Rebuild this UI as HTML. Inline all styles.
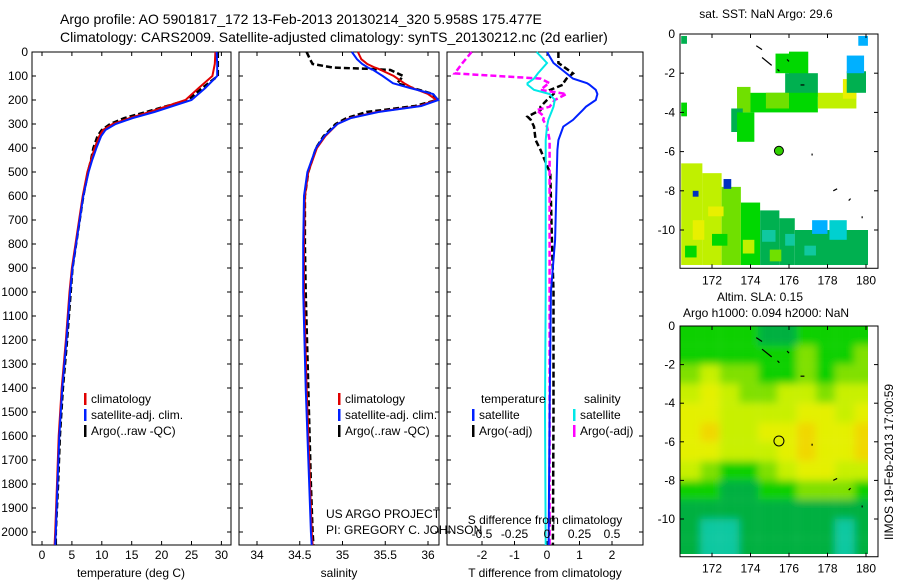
<!DOCTYPE html>
<html><head><meta charset="utf-8"><style>
html,body{margin:0;padding:0;background:#fff;}
svg{display:block;font-family:"Liberation Sans",sans-serif;}
</style></head><body>
<svg id="fig" width="900" height="580" viewBox="0 0 900 580" xmlns="http://www.w3.org/2000/svg">
<defs>
<filter id="blur" x="0" y="0" width="1" height="1"><feGaussianBlur stdDeviation="4"/></filter>
<clipPath id="clipSla"><rect x="680" y="326" width="188" height="228"/></clipPath>
<clipPath id="clipSst"><rect x="680" y="34" width="188" height="231"/></clipPath>
</defs>
<text x="60" y="24" font-size="14">Argo profile: AO 5901817_172 13-Feb-2013 20130214_320 5.958S 175.477E</text>
<text x="60" y="42" font-size="14">Climatology: CARS2009. Satellite-adjusted climatology: synTS_20130212.nc (2d earlier)</text>
<g id="plots"></g>
</svg>
<script>
// ---------- profile data ----------
const presT = [0,50,100,150,200,250,275,300,325,350,400,450,500,600,700,800,900,1000,1100,1200,1400,1600,1800,2000,2054];
const tempClim = [29.0,28.9,28.5,26.2,24.0,18.0,14.7,11.8,10.2,9.6,8.8,8.2,7.6,6.8,6.2,5.6,5.0,4.6,4.3,4.0,3.3,2.8,2.5,2.2,2.1];
const tempSat  = [29.2,29.3,29.3,27.3,25.0,18.8,15.2,12.3,10.6,9.9,9.1,8.4,7.8,6.9,6.3,5.7,5.1,4.7,4.4,4.1,3.4,2.9,2.6,2.3,2.2];
const tempArgo = [29.4,29.4,29.4,26.8,24.4,17.4,13.8,11.4,10.0,9.3,8.6,8.2,7.7,6.9,6.3,5.7,5.1,4.8,4.5,4.2,3.5,3.0,2.7,2.3,2.3];

const presS = [0,30,50,65,70,75,100,130,150,175,200,225,250,275,300,350,400,500,600,800,1000,1400,1800,2000,2054];
const salClim = [35.18,35.22,35.29,35.38,35.42,35.45,35.60,35.72,35.82,36.00,36.10,35.90,35.40,35.09,34.94,34.80,34.70,34.60,34.56,34.55,34.55,34.58,34.62,34.64,34.65];
const salSat  = [35.11,35.17,35.23,35.30,35.33,35.36,35.47,35.59,35.79,36.06,36.12,35.92,35.42,35.10,34.94,34.79,34.69,34.59,34.55,34.54,34.54,34.57,34.61,34.63,34.64];
const salArgo = [34.58,34.62,34.65,34.89,35.29,35.56,35.71,35.64,35.82,36.06,36.10,35.85,35.28,35.05,34.92,34.78,34.69,34.60,34.56,34.56,34.57,34.60,34.63,34.65,34.66];

const presD = [0,46,89,111,130,136,158,175,200,228,242,269,283,311,367,408,506,783,1000,1500,2054];
const tDiffSat  = [0.0,0.2,0.6,0.8,1.23,1.3,1.5,1.55,1.5,1.2,1.1,0.9,0.8,0.5,0.35,0.32,0.3,0.25,0.12,0.08,0.05];
const tDiffArgo = [0.35,0.35,0.8,0.6,0.5,0.5,0.1,0.2,0.0,-0.2,-0.2,-0.6,-0.5,-0.4,-0.35,-0.2,0.1,0.15,0.2,0.2,0.18];
const sDiffSat  = [-0.08,0.0,-0.07,-0.1,-0.15,-0.15,-0.1,0.02,0.06,0.05,0.04,0.02,0.01,0.0,-0.01,-0.01,-0.01,-0.01,-0.01,-0.015,-0.01];
const sDiffArgo = [-0.58,-0.65,-0.71,-0.05,0.02,0.0,-0.05,0.15,0.06,0.02,-0.08,-0.02,-0.03,0.0,0.02,0.02,0.02,0.02,0.02,0.02,0.02];

const pTicks = [0,100,200,300,400,500,600,700,800,900,1000,1100,1200,1300,1400,1500,1600,1700,1800,1900,2000];
const tTicks = [0,5,10,15,20,25,30];
const sTicks = [34,34.5,35,35.5,36];
const tdTicks = [-2,-1,0,1,2];
const sdTicks = [-0.5,-0.25,0,0.25,0.5];
const sdTickLabels = ['-0.5','-0.25','0','0.25','0.5'];

// ---------- map data ----------
const slaLonEdges = [170.4,171.4,172.4,173.4,174.4,175.4,176.4,177.4,178.4,179.4,180.4];
const slaRows = [
 [2,2,2,2,1,1,2,2,2,2],
 [2,2,2,2,2,2,3,2,2,3],
 [3,4,3,3,2,2,3,2,3,3],
 [4,5,4,3,3,4,4,3,4,4],
 [5,5,4,4,4,4,5,5,4,5],
 [5,6,4,4,5,5,6,5,5,6],
 [5,5,4,4,4,5,6,5,5,6],
 [4,3,2,2,3,4,5,5,4,4],
 [2,2,1,1,2,2,3,3,3,2],
 [1,1,1,1,1,1,1,1,1,1],
 [1,0,0,1,1,1,1,1,0,1],
 [1,0,0,1,1,1,1,1,0,1]];
const slaColors = ['#10c8a0','#00b040','#10d000','#80e000','#c8f000','#e4f000','#f0d800'];
// SST patches: [lonW, lonE, latN, latS, colorIndex]
const sstPatches = [
 [170.4,171.5,-6.6,-11.8,4],[171.5,172.5,-7.1,-11.8,4],[172.5,173.5,-7.8,-11.8,3],
 [173.5,174.5,-8.6,-11.8,2],[174.5,175.5,-9.0,-11.8,1],[175.5,176.3,-9.4,-11.8,1],
 [176.3,180.3,-10.0,-11.8,1],[177.2,178.0,-9.5,-10.2,7],[178.1,179.0,-9.5,-10.5,8],
 [179.5,180.3,-10.9,-11.8,1],[172.6,173.0,-7.4,-7.9,9],[171.0,171.3,-8.0,-8.3,9],
 [171.0,171.6,-9.5,-10.5,5],[170.6,171.2,-10.8,-11.4,2],[172.0,172.8,-10.2,-10.8,2],
 [171.8,172.6,-8.8,-9.3,5],[173.6,174.2,-10.5,-11.2,4],[174.6,175.3,-10.0,-10.6,0],
 [175.8,176.3,-10.2,-10.8,0],[176.8,177.4,-10.8,-11.3,0],[175.0,175.6,-11.0,-11.6,3],
 [176.0,177.0,-0.9,-3.0,2],[175.3,176.0,-1.0,-2.0,2],[175.8,177.5,-2.0,-3.2,1],
 [173.3,174.0,-2.7,-4.0,3],[174.0,177.5,-3.0,-4.0,2],[174.8,176.0,-3.0,-3.8,3],
 [177.5,179.5,-3.0,-3.8,4],[178.8,179.5,-2.3,-3.3,5],[179.0,180.0,-1.9,-3.0,1],
 [173.0,173.6,-3.8,-5.0,1],[173.3,174.2,-4.0,-5.5,2],[170.4,170.7,-3.5,-4.2,2],
 [179.6,180.1,-0.1,-0.6,7],[179.0,179.9,-1.1,-2.0,7],[170.4,170.7,-0.1,-0.5,1]];
const sstColors = ['#10c8a0','#00b050','#00d800','#70e000','#c0f000','#e8f000','#f0d000','#00b0ff','#00d0d0','#0030c0'];
const argoLon = 175.477, argoLat = -5.958;

// ---------- drawing ----------
const NS='http://www.w3.org/2000/svg';
const root=document.getElementById('plots');
function mk(tag,attrs,parent){const e=document.createElementNS(NS,tag);for(const k in attrs)e.setAttribute(k,attrs[k]);(parent||root).appendChild(e);return e;}
function txt(x,y,s,size,anchor,parent){const t=mk('text',{x:x,y:y,'font-size':size||12,'text-anchor':anchor||'start'},parent);t.textContent=s;return t;}

const py = p => 52 + p*0.24;
const PT={x0:32,x1:231}, PS={x0:239,x1:439}, PD={x0:447,x1:643};
const tx = t => 42 + t*5.98;
const sx = s => 257 + (s-34)*85.5;
const tdx = d => 547 + d*32.5;
const sdx = d => 547 + d*130;

function panel(P,name){
  const g=mk('g',{});
  
  
  mk('rect',{x:P.x0,y:52,width:P.x1-P.x0,height:493,fill:'#fff',stroke:'#000','stroke-width':1},g);
  pTicks.forEach(p=>{const y=py(p);
    mk('line',{x1:P.x0,x2:P.x0+4,y1:y,y2:y,stroke:'#000'},g);
    mk('line',{x1:P.x1-4,x2:P.x1,y1:y,y2:y,stroke:'#000'},g);});
  return g;
}
function xticks(g,ticks,f,labels,ly){
  ticks.forEach((v,i)=>{const x=f(v);
    mk('line',{x1:x,x2:x,y1:52,y2:56,stroke:'#000'},g);
    mk('line',{x1:x,x2:x,y1:541,y2:545,stroke:'#000'},g);
    const t=txt(x,ly,labels?labels[i]:String(v),12,'middle',g);
    
    });
}
function line(g,xs,ps,fx,color,w,dash,name){
  const d=xs.map((v,i)=>(i?'L':'M')+fx(v).toFixed(1)+','+py(ps[i]).toFixed(1)).join('');
  const a={d:d,fill:'none',stroke:color,'stroke-width':w};
  if(dash)a['stroke-dasharray']=dash;
  const e=mk('path',a,g);
  
  
}
function legend(g,x,y,items){
  items.forEach((it,i)=>{const yy=y+i*16;
    mk('rect',{x:x,y:yy-10,width:2.5,height:12,fill:it[1]},g);
    const t=txt(x+7,yy,it[0],12,'start',g);
    
    });
}

// y axis labels
const yl=mk('g',{});


pTicks.forEach(p=>txt(28,py(p)+4,String(p),12,'end',yl));

// Panel 1: temperature
const g1=panel(PT,'temperature-panel');
xticks(g1,tTicks,tx,null,559);
let t1=txt(131,577,'temperature (deg C)',12,'middle',g1);


line(g1,tempArgo,presT,tx,'#000',2.5,'6,3','argo-temperature-line');
line(g1,tempClim,presT,tx,'#e00000',2,null,'climatology-temperature-line');
line(g1,tempSat,presT,tx,'#0020ff',2,null,'satellite-temperature-line');
legend(g1,84,403,[['climatology','#e00000'],['satellite-adj. clim.','#0020ff'],['Argo(..raw -QC)','#000']]);

// Panel 2: salinity
const g2=panel(PS,'salinity-panel');
xticks(g2,sTicks,sx,null,559);
let t2=txt(339,577,'salinity',12,'middle',g2);


line(g2,salArgo,presS,sx,'#000',2.5,'6,3','argo-salinity-line');
line(g2,salClim,presS,sx,'#e00000',2,null,'climatology-salinity-line');
line(g2,salSat,presS,sx,'#0020ff',2,null,'satellite-salinity-line');
legend(g2,338,403,[['climatology','#e00000'],['satellite-adj. clim.','#0020ff'],['Argo(..raw -QC)','#000']]);

// Panel 3: differences
const g3=panel(PD,'difference-panel');
xticks(g3,tdTicks,tdx,null,559);
line(g3,tDiffArgo,presD,tdx,'#000',2.5,'6,3','argo-t-diff-line');
line(g3,sDiffArgo,presD,sdx,'#ff00ff',2.5,'6,3','argo-s-diff-line');
line(g3,tDiffSat,presD,tdx,'#0020ff',2,null,'satellite-t-diff-line');
line(g3,sDiffSat,presD,sdx,'#00e8e8',2,null,'satellite-s-diff-line');
sdTicks.forEach((v,i)=>{const t=txt(sdx(v),538,sdTickLabels[i],12,'middle',g3);
  
  });
txt(545,524,'S difference from climatology',12,'middle',g3);
let t3=txt(545,577,'T difference from climatology',12,'middle',g3);


txt(481,403,'temperature',12,'start',g3);
txt(584,403,'salinity',12,'start',g3);
legend(g3,472,419,[['satellite','#0020ff'],['Argo(-adj)','#000']]);
legend(g3,573,419,[['satellite','#00e8e8'],['Argo(-adj)','#ff00ff']]);

// credit text on top
const cr=mk('g',{});


txt(326,518,'US ARGO PROJECT',12,'start',cr);
txt(326,534,'PI: GREGORY C. JOHNSON',12,'start',cr);

// ---------- maps ----------
const mlx = lon => 712 + (lon-172)*19.25;
function mapFrame(g,top,latScale){
  const mly = lat => top - lat*latScale;
  mk('rect',{x:680,y:top,width:198,height:latScale*11.8+3,fill:'none',stroke:'#000'},g);
  [172,174,176,178,180].forEach(l=>{const x=mlx(l);
    mk('line',{x1:x,x2:x,y1:top,y2:top+4,stroke:'#000'},g);
    mk('line',{x1:x,x2:x,y1:top+latScale*11.8+3,y2:top+latScale*11.8-1,stroke:'#000'},g);
    txt(x,top+latScale*11.8+19,String(l),12,'middle',g);});
  [0,-2,-4,-6,-8,-10].forEach(l=>{const y=mly(l);
    mk('line',{x1:680,x2:684,y1:y,y2:y,stroke:'#000'},g);
    mk('line',{x1:874,x2:878,y1:y,y2:y,stroke:'#000'},g);
    txt(675,y+4,String(l),12,'end',g);});
  [[174.3,-0.6,174.6,-0.8],[174.6,-1.2,175.1,-1.6],[175.9,-1.3,176.0,-1.4],[176.6,-2.6,176.8,-2.6],[177.2,-6.2,177.2,-6.1],[178.3,-8.0,178.5,-7.9],[179.1,-8.5,179.2,-8.4],[179.8,-9.3,179.8,-9.4],[175.4,-1.8,175.5,-1.9]].forEach(s=>{
    mk('line',{x1:mlx(s[0]),y1:mly(s[1]),x2:mlx(s[2]),y2:mly(s[3]),stroke:'#000','stroke-width':1.2},g);});
  return mly;
}

// SST map
const gm1=mk('g',{});


txt(766,18,'sat. SST: NaN Argo: 29.6',12,'middle',gm1);
const sy = lat => 34 - lat*19.6;
const sstG=mk('g',{'clip-path':'url(#clipSst)'},gm1);
sstPatches.forEach(c=>{const r=mk('rect',{x:mlx(c[0]),y:sy(c[2]),width:mlx(c[1])-mlx(c[0]),height:sy(c[3])-sy(c[2]),fill:sstColors[c[4]]},sstG);
  
  });
mapFrame(gm1,34,19.6);
const c1=mk('circle',{cx:mlx(argoLon),cy:sy(argoLat),r:4.5,fill:'#30d000',stroke:'#000'},gm1);



// SLA map
const gm2=mk('g',{});


txt(760,301,'Altim. SLA: 0.15',12,'middle',gm2);
txt(766,317,'Argo h1000: 0.094 h2000: NaN',12,'middle',gm2);
const ly2 = lat => 326 - lat*19.3;
const slaClip=mk('g',{'clip-path':'url(#clipSla)'},gm2);
const slaG=mk('g',{filter:'url(#blur)'},slaClip);
slaRows.forEach((row,ri)=>{row.forEach((v,ci)=>{
  const x0=mlx(slaLonEdges[ci]), x1=mlx(slaLonEdges[ci+1]);
  const yA=ly2(-ri), yB=ly2(-ri-1);
  const r=mk('rect',{x:ci===0?x0-20:x0,y:ri===0?yA-20:yA,width:(x1-x0)+(ci===0||ci===9?20:0),height:(yB-yA)+(ri===0||ri===11?20:0),fill:slaColors[v]},slaG);
  
  });});
mapFrame(gm2,326,19.3);
const c2=mk('circle',{cx:mlx(argoLon),cy:ly2(argoLat),r:5,fill:'none',stroke:'#000'},gm2);


const vt=txt(0,0,'IIMOS 19-Feb-2013 17:00:59',12,'middle',gm2);
vt.setAttribute('transform','translate(893,462) rotate(-90)');


</script>
</body></html>
